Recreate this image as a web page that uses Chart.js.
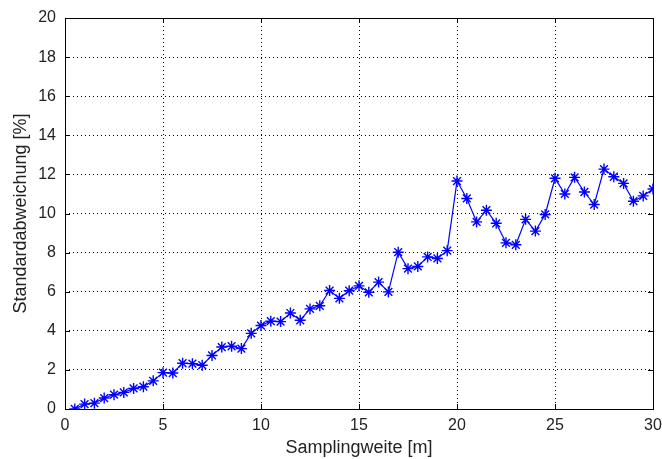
<!DOCTYPE html>
<html>
<head>
<meta charset="utf-8">
<script src="https://cdn.jsdelivr.net/npm/chart.js@4.4.0/dist/chart.umd.min.js"></script>
<style>
  html, body { margin: 0; padding: 0; background: #fff; }
  #wrap { width: 662px; height: 459px; }
</style>
</head>
<body>
<div id="wrap"><canvas id="myChart" width="662" height="459"></canvas></div>
<script>
'use strict';
// sampling distance [m] and standard deviation [%]
let xValues = [0.5, 1, 1.5, 2, 2.5, 3, 3.5, 4, 4.5, 5,
  5.5, 6, 6.5, 7, 7.5, 8, 8.5, 9, 9.5, 10,
  10.5, 11, 11.5, 12, 12.5, 13, 13.5, 14, 14.5, 15,
  15.5, 16, 16.5, 17, 17.5, 18, 18.5, 19, 19.5, 20,
  20.5, 21, 21.5, 22, 22.5, 23, 23.5, 24, 24.5, 25,
  25.5, 26, 26.5, 27, 27.5, 28, 28.5, 29, 29.5, 30];
let yValues = [0.0, 0.25, 0.3, 0.56, 0.73, 0.85, 1.05, 1.14, 1.44, 1.86,
  1.84, 2.34, 2.32, 2.24, 2.74, 3.17, 3.21, 3.09, 3.87, 4.27,
  4.49, 4.47, 4.91, 4.54, 5.12, 5.28, 6.06, 5.66, 6.05, 6.3,
  5.97, 6.49, 5.99, 8.02, 7.18, 7.29, 7.78, 7.7, 8.1, 11.66,
  10.77, 9.57, 10.17, 9.5, 8.5, 8.4, 9.7, 9.1, 9.95, 11.8,
  11.0, 11.85, 11.1, 10.46, 12.27, 11.88, 11.54, 10.63, 10.9, 11.25];
let xTicks = [0, 5, 10, 15, 20, 25, 30];
let yTicks = [0, 2, 4, 6, 8, 10, 12, 14, 16, 18, 20];
let xTitle = 'Samplingweite [m]';
let yTitle = 'Standardabweichung [%]';

let points = [];
for (let i = 0; i < xValues.length; i++) {
  points.push({ x: xValues[i], y: yValues[i] });
}

// matlab style box with inward ticks
let boxPlugin = {
  id: 'box',
  afterDraw(chart) {
    let ctx = chart.ctx;
    let a = chart.chartArea;
    let xs = chart.scales.x;
    let ys = chart.scales.y;
    ctx.save();
    ctx.strokeStyle = '#000';
    ctx.lineWidth = 1;
    ctx.setLineDash([]);
    ctx.strokeRect(Math.round(a.left) + 0.5, Math.round(a.top) + 0.5,
      Math.round(a.right - a.left), Math.round(a.bottom - a.top));
    let len = 5;
    ctx.beginPath();
    xTicks.forEach(function (t) {
      let px = Math.round(xs.getPixelForValue(t)) + 0.5;
      ctx.moveTo(px, a.bottom); ctx.lineTo(px, a.bottom - len);
      ctx.moveTo(px, a.top); ctx.lineTo(px, a.top + len);
    });
    yTicks.forEach(function (t) {
      let py = Math.round(ys.getPixelForValue(t)) + 0.5;
      ctx.moveTo(a.left, py); ctx.lineTo(a.left + len, py);
      ctx.moveTo(a.right, py); ctx.lineTo(a.right - len, py);
    });
    ctx.stroke();
    ctx.restore();
  }
};

let tickFont = { family: 'Liberation Sans', size: 16 };
let titleFont = { family: 'Liberation Sans', size: 18 };

let ctx = document.getElementById('myChart').getContext('2d');
let chart = new Chart(ctx, {
  type: 'line',
  data: {
    datasets: [{
      data: points,
      borderColor: '#0000ff',
      backgroundColor: '#0000ff',
      borderWidth: 1.2,
      pointStyle: 'star',
      pointRadius: 5.5,
      pointBorderWidth: 1.4,
      pointBorderColor: '#0000ff',
      tension: 0,
      fill: false
    }]
  },
  options: {
    responsive: false,
    animation: false,
    layout: { padding: { top: 18, right: 9, left: 0, bottom: 0 } },
    plugins: { legend: { display: false }, tooltip: { enabled: false } },
    scales: {
      x: {
        type: 'linear',
        min: 0,
        max: 30,
        afterBuildTicks(scale) { scale.ticks = xTicks.map(v => ({ value: v })); },
        afterFit(scale) { scale.height = 50; scale.paddingRight = 0; scale.paddingLeft = 0; },
        grid: { color: '#000', drawTicks: false, lineWidth: 1 },
        border: { display: false, dash: [1, 3] },
        ticks: { color: '#222', padding: 7, font: tickFont, maxRotation: 0 },
        title: { display: true, text: xTitle, color: '#222', padding: { top: 0, bottom: 0 }, font: titleFont }
      },
      y: {
        min: 0,
        max: 20,
        afterBuildTicks(scale) { scale.ticks = yTicks.map(v => ({ value: v })); },
        afterFit(scale) { scale.width = 65; scale.paddingTop = 0; scale.paddingBottom = 0; },
        grid: { color: '#000', drawTicks: false, lineWidth: 1 },
        border: { display: false, dash: [1, 3] },
        ticks: { color: '#222', padding: 9, font: tickFont },
        title: { display: true, text: yTitle, color: '#222', padding: { top: 10, bottom: 0 }, font: titleFont }
      }
    }
  },
  plugins: [boxPlugin]
});
</script>
</body>
</html>
